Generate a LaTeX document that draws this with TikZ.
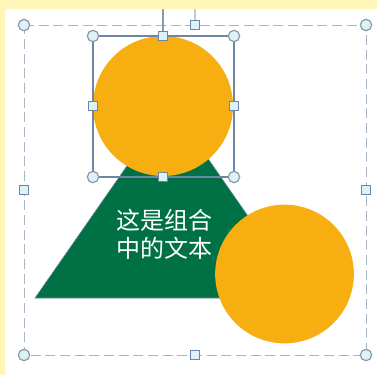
\documentclass[tikz,border=0pt]{standalone}
\usepackage{fontspec}
\newfontfamily\cjk{Noto Sans CJK SC}
\usepackage{tikz}
\usetikzlibrary{
	positioning
}

\definecolor{bgyellow}{HTML}{FFF5B6}
\definecolor{orangefill}{HTML}{F6AE10}
\definecolor{greenfill}{HTML}{007144}
\definecolor{dashline}{HTML}{A6B6C6}
\definecolor{selline}{HTML}{6B86A6}
\definecolor{handlefill}{HTML}{DDF2F6}
\definecolor{handledraw}{HTML}{8A9AA6}
\definecolor{rotline}{HTML}{BACADA}

\tikzset{
	roundhandle/.style={circle,draw=handledraw,fill=handlefill,line width=0.9pt,minimum size=8.5pt,inner sep=0pt},
	squarehandle/.style={rectangle,draw=selline,fill=handlefill,line width=0.8pt,minimum size=7pt,inner sep=0pt},
	groupline/.style={draw=dashline,line width=0.75pt,dash pattern=on 7.5pt off 3.5pt},
	selectline/.style={draw=selline,line width=0.8pt},
	disc/.style={circle,fill=orangefill,inner sep=0pt}
}

\begin{document}
\begin{tikzpicture}[x=0.75pt,y=-0.75pt]
		\useasboundingbox (0,0) rectangle (377,375);
		\fill[white] (0,0) rectangle (377,375);

		% shapes of the group
		\coordinate (apex) at (170,104);
		\coordinate (baseL) at (35,298);
		\coordinate (baseR) at (305,298);
		\fill[greenfill,draw=selline,line width=0.4pt] (apex) -- (baseR) -- (baseL) -- cycle;
		\node[disc,minimum size=105pt] (topdisc) at (163,106) {};
		\node[text=white,align=center,font=\cjk\fontsize{18}{21}\selectfont] (label) at (164,234) {这是组合\\中的文本};
		\node[disc,minimum size=104pt] (lowdisc) at (284.5,274) {};

		% group frame
		\coordinate (g1) at (24,25);
		\coordinate (g2) at (366,25);
		\coordinate (g3) at (366,355);
		\coordinate (g4) at (24,355);
		\coordinate (grot) at (195,9);
		\draw[rotline,line width=1.5pt] (195,25) -- (grot);
		\draw[groupline] (g1) -- (g2) -- (g3) -- (g4) -- cycle;
		\draw
			node[roundhandle]  (gtl) at (g1) {}
			node[roundhandle]  (gtr) at (g2) {}
			node[roundhandle]  (gbr) at (g3) {}
			node[roundhandle]  (gbl) at (g4) {}
			node[squarehandle] (gt)  at (195,25)  {}
			node[squarehandle] (gb)  at (195,355) {}
			node[squarehandle] (gl)  at (24,190)  {}
			node[squarehandle] (gr)  at (366,190) {}
		;

		% selected circle
		\coordinate (s1) at (93,36);
		\coordinate (s2) at (234,36);
		\coordinate (s3) at (234,177);
		\coordinate (s4) at (93,177);
		\coordinate (srot) at (163,9);
		\draw[draw=handledraw,line width=1.2pt] (163,36) -- (srot);
		\draw[selectline] (s1) -- (s2) -- (s3) -- (s4) -- cycle;
		\draw
			node[roundhandle]  (stl) at (s1) {}
			node[roundhandle]  (str) at (s2) {}
			node[roundhandle]  (sbr) at (s3) {}
			node[roundhandle]  (sbl) at (s4) {}
			node[squarehandle] (st)  at (163,36)  {}
			node[squarehandle] (sb)  at (163,177) {}
			node[squarehandle] (sl)  at (93,106)  {}
			node[squarehandle] (sr)  at (234,106) {}
		;

		% window edge
		\fill[bgyellow,even odd rule] (0,0) rectangle (377,375) (5,9) rectangle (377,375);
	\end{tikzpicture}
\end{document}
